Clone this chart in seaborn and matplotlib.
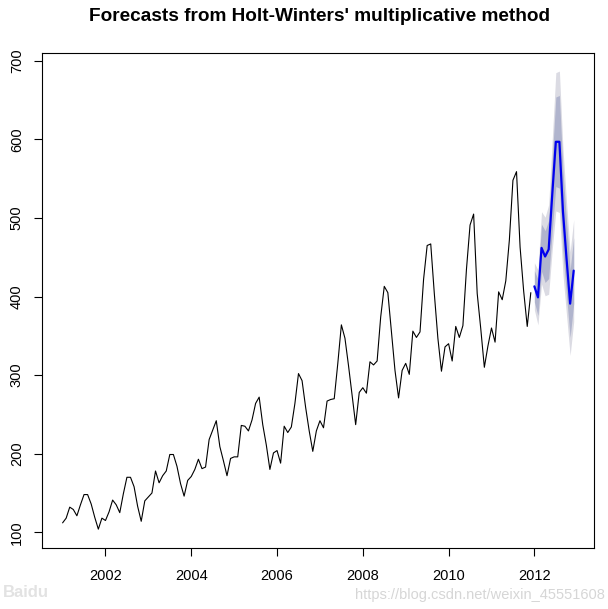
import numpy as np
import pandas as pd
import matplotlib
matplotlib.use("Agg")
import matplotlib.pyplot as plt
import seaborn as sns

# monthly series, Jan 2001 - Dec 2011
passengers = [
    112, 118, 132, 129, 121, 135, 148, 148, 136, 119, 104, 118,
    115, 126, 141, 135, 125, 149, 170, 170, 158, 133, 114, 140,
    145, 150, 178, 163, 172, 178, 199, 199, 184, 162, 146, 166,
    171, 180, 193, 181, 183, 218, 230, 242, 209, 191, 172, 194,
    196, 196, 236, 235, 229, 243, 264, 272, 237, 211, 180, 201,
    204, 188, 235, 227, 234, 264, 302, 293, 259, 229, 203, 229,
    242, 233, 267, 269, 270, 315, 364, 347, 312, 274, 237, 278,
    284, 277, 317, 313, 318, 374, 413, 405, 355, 306, 271, 306,
    315, 301, 356, 348, 355, 422, 465, 467, 404, 347, 305, 336,
    340, 318, 362, 348, 363, 435, 491, 505, 404, 359, 310, 337,
    360, 342, 406, 396, 420, 472, 548, 559, 463, 407, 362, 405,
]
start_year = 2001

# forecasts for 2012 and interval half-widths
fc_mean = [413, 399, 462, 451, 460, 530, 597, 597, 508, 448, 391, 433]
hw80 = [20, 23, 30, 33, 37, 46, 57, 59, 52, 47, 43, 42]
hw95 = [30, 35, 46, 50, 57, 70, 88, 90, 80, 72, 66, 65]

n = len(passengers)
hist = pd.DataFrame({"t": start_year + np.arange(n) / 12, "y": passengers})
fc = pd.DataFrame({"t": start_year + (n + np.arange(len(fc_mean))) / 12, "y": fc_mean})
lo80 = np.array(fc_mean) - np.array(hw80)
hi80 = np.array(fc_mean) + np.array(hw80)
lo95 = np.array(fc_mean) - np.array(hw95)
hi95 = np.array(fc_mean) + np.array(hw95)

sns.set_style("white")
plt.rcParams["font.family"] = ["Liberation Sans", "DejaVu Sans"]
plt.rcParams["text.color"] = "black"

fig = plt.figure(figsize=(6.08, 6.09), dpi=100)
ax = fig.add_axes([42 / 608, 1 - 548 / 609, 552 / 608, 495 / 609])

ax.fill_between(fc["t"], lo95, hi95, color="#DBDBE3", linewidth=0)
ax.fill_between(fc["t"], lo80, hi80, color="#B0B4CD", linewidth=0)
sns.lineplot(data=hist, x="t", y="y", ax=ax, color="black", linewidth=0.8)
sns.lineplot(data=fc, x="t", y="y", ax=ax, color="#0000EE", linewidth=1.6)

ax.set_xlim(2000.52, 2013.39)
ax.set_ylim(80, 710)
ax.set_xticks([2002, 2004, 2006, 2008, 2010, 2012])
ax.set_yticks([100, 200, 300, 400, 500, 600, 700])
ax.set_xlabel("")
ax.set_ylabel("")
ax.tick_params(axis="both", direction="out", length=6, width=0.8,
               colors="black", labelsize=10.5, left=True, bottom=True)
ax.tick_params(axis="x", pad=9)
ax.tick_params(axis="y", pad=7)
for lab in ax.get_yticklabels():
    lab.set_rotation(90)
    lab.set_va("center")
for sp in ax.spines.values():
    sp.set_visible(True)
    sp.set_color("black")
    sp.set_linewidth(0.8)

fig.text(0.526, 0.973, "Forecasts from Holt-Winters' multiplicative method",
         ha="center", va="center", fontsize=13.7, fontweight="bold",
         color="black")

# watermarks
fig.text(0.995, 0.012, "https://blog.csdn.net/weixin_45551608", ha="right",
         va="bottom", fontsize=10.5, color="#D6D6D6")
fig.text(0.005, 0.015, "Baidu", ha="left", va="bottom", fontsize=12,
         color="#E2E2E2", fontweight="bold")

fig.savefig("out.png", dpi=100)
